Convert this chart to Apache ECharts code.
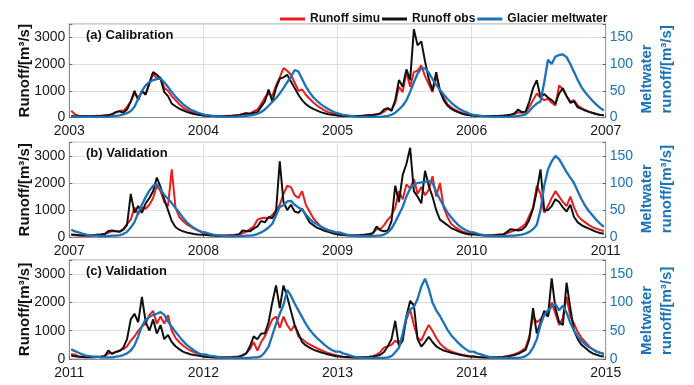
<!DOCTYPE html>
<html><head><meta charset="utf-8">
<script src="https://cdn.jsdelivr.net/npm/echarts@6/dist/echarts.min.js"></script>
<style>html,body{margin:0;padding:0;background:#fff}#c{width:694px;height:385px}</style>
</head><body><div id="c"></div>
<script>
// ---- data (≈10-day samples, 36 per year) ----
const startYears = [2003, 2007, 2011];
const samplesPerYear = 36;
const panelLabels = ['(a) Calibration', '(b) Validation', '(c) Validation'];
const seriesNames = ['Runoff simu', 'Runoff obs', 'Glacier meltwater'];
const runoffTicks = [0, 1000, 2000, 3000];
const meltTicks = [0, 50, 100, 150];

// Panel (a) 2003-2006
const simA = [
 250,120,70,60,60,60,60,70,70,80, 90,130,200,250,250,400,600,900,750,950, 900,1250,1650,1450,1500,1100,1000,800,650,500, 380,290,220,170,130,110,
 80,70,60,60,60,60,70,70,80,90, 130,170,150,230,300,500,750,900,800,1200, 1500,1850,1750,1600,1300,1000,1050,850,700,560, 450,350,270,200,160,130,
 80,70,60,60,60,60,70,80,90,100, 120,150,220,330,280,550,1150,950,1700,1150, 1700,1750,1950,1550,1250,950,1550,1000,750,500, 380,290,220,170,130,100,
 80,70,60,60,60,60,60,70,70,80, 100,130,200,180,200,400,650,900,750,650, 700,550,450,1200,1050,800,600,650,450,350, 280,220,170,130,100,80
];
const obsA = [
 60,50,50,50,50,50,50,60,60,70, 80,120,200,230,180,300,600,1000,650,1000, 850,1300,1700,1600,1450,950,800,520,420,330, 270,210,170,130,100,80,
 70,60,55,50,50,50,60,60,70,80, 120,150,130,180,200,400,600,1050,600,1100, 1450,1500,1600,1350,1100,850,650,500,400,320, 260,200,160,120,100,80,
 70,60,55,55,55,60,60,70,80,90, 110,150,300,350,250,650,1400,1150,1800,1400, 3300,2700,2850,2100,1450,1000,1700,1000,650,450, 330,250,190,140,100,80,
 70,60,55,55,55,55,60,60,70,80, 100,150,300,200,220,600,1100,1400,750,880, 750,650,520,900,1100,800,550,600,380,320, 260,210,170,130,90,80
];
const meltA = [
 1,1,1,1,1,1,1,1,1,1, 1,2,3,4,6,8,12,20,35,50, 60,66,70,72,73,66,57,48,39,32, 25,20,15,12,9,7,
 5,4,3,2,2,1,1,1,1,2, 2,3,4,5,7,10,15,22,29,36, 45,55,66,76,89,86,72,58,47,38, 31,25,20,16,12,9,
 7,5,4,3,2,1,1,1,1,1, 1,1,2,3,5,9,15,22,32,48, 66,82,92,92,84,72,61,52,43,35, 28,22,17,13,10,7,
 5,4,3,2,2,1,1,1,1,1, 1,2,3,4,6,12,20,26,30,66, 108,100,114,117,118,113,100,85,70,57, 47,39,31,24,18,13
];

// Panel (b) 2007-2010
const simB = [
 90,80,70,70,70,70,80,90,100,120, 170,230,220,220,300,500,650,1100,850,1100, 1050,1200,1450,1900,1700,1300,1150,2500,1100,750, 600,480,400,320,260,200,
 100,90,80,70,70,70,70,80,90,100, 150,200,300,400,650,700,720,700,820,1000, 1200,1600,1900,1850,1550,1450,1700,1200,950,700, 550,400,330,270,230,180,
 100,90,80,80,80,80,90,100,120,150, 300,300,450,650,800,1100,1700,1400,1950,1800, 2150,1600,1850,1550,1750,2250,1500,2000,1100,750, 500,380,290,220,170,130,
 130,100,90,80,80,80,90,100,110,150, 200,250,300,380,500,800,1100,1900,1600,900, 1150,1450,1700,1500,1300,1150,1500,1100,800,650, 550,450,370,320,270,230
];
const obsB = [
 100,90,80,70,70,70,80,90,100,120, 230,250,220,200,280,450,1600,900,1150,900, 1250,1450,1700,2200,1850,1400,1000,600,380,280, 220,180,150,120,100,90,
 90,80,70,60,60,60,70,70,80,100, 250,230,220,320,400,600,550,750,700,950, 2800,1300,1000,1200,950,900,1050,800,550,450, 350,300,240,200,160,120,
 100,90,80,70,70,70,80,90,110,150, 400,260,220,250,600,1900,1300,2300,2700,3300, 1700,1500,1250,2450,1900,1500,1000,650,550,450, 340,280,220,170,130,100,
 110,90,80,70,70,70,80,90,100,200, 300,280,250,280,400,650,1050,1700,2500,1000, 1000,1150,1400,1300,1100,950,1200,750,550,450, 380,320,260,200,160,130
];
const meltB = [
 14,11,9,7,5,4,3,3,2,2, 2,3,3,4,6,10,18,28,45,60, 74,86,95,98,88,78,71,63,54,46, 36,28,22,17,13,10,
 9,7,5,4,3,2,2,2,2,2, 2,3,3,4,6,9,13,18,25,40, 56,59,66,67,60,55,51,42,34,28, 24,20,16,13,11,9,
 9,7,5,4,3,2,2,2,2,2, 3,3,5,9,16,28,42,56,75,90, 97,100,101,102,104,100,84,70,58,46, 37,29,22,17,13,10,
 9,7,5,4,3,2,2,2,2,2, 3,3,4,5,7,10,15,23,50,95, 125,140,150,144,132,120,110,100,85,70, 58,48,40,32,25,19
];

// Panel (c) 2011-2014
const simC = [
 180,150,100,80,70,70,70,80,90,110, 200,200,250,300,350,450,650,800,1000,1150, 1250,1550,1700,1250,1500,1250,1550,1000,750,600, 480,380,300,240,190,160,
 80,70,60,60,60,60,60,70,80,90, 130,200,350,600,300,600,800,1100,1400,1500, 1100,1500,1200,1000,1200,800,700,600,520,450, 380,320,260,210,170,140,
 90,70,60,60,60,60,60,70,80,100, 150,250,400,450,500,650,550,800,1400,1750, 1200,750,650,950,1200,1000,750,550,420,330, 270,220,180,150,120,100,
 90,70,60,60,60,60,60,70,80,100, 130,170,220,300,400,800,1500,1300,1400,1600, 1500,2000,1600,1200,1450,2200,1500,1250,950,750, 600,450,350,280,220,180
];
const obsC = [
 120,100,80,70,60,60,60,70,80,100, 300,180,250,280,400,700,1400,1600,1300,2200, 1300,1000,1400,900,1200,700,850,600,450,350, 260,210,170,140,120,100,
 80,70,60,55,50,50,55,60,70,80, 130,200,450,800,700,900,900,1300,2000,2600, 1800,2600,2200,1700,1200,900,600,480,400,330, 280,240,200,160,130,100,
 100,80,70,60,55,55,55,60,70,90, 110,150,250,450,700,1350,450,650,1500,2050, 1900,700,440,600,780,600,450,370,300,260, 220,190,160,130,110,90,
 90,70,60,55,50,50,55,60,70,90, 110,140,180,250,320,700,1800,900,1300,1700, 1500,2850,1800,1300,1200,2700,1800,1000,700,500, 400,280,200,150,110,90
];
const meltC = [
 17,14,11,8,6,5,4,4,3,3, 3,3,4,5,7,10,15,24,40,58, 70,74,78,80,83,78,66,57,48,40, 32,25,20,15,11,8,
 8,6,5,4,3,2,2,2,2,2, 2,2,2,3,3,5,12,22,42,62, 80,96,122,112,98,86,74,62,52,44, 37,31,25,20,16,13,
 13,10,8,6,4,3,2,2,2,2, 2,2,2,3,5,12,20,45,75,88, 92,106,128,142,124,100,86,76,64,52, 42,35,28,22,17,13,
 13,10,8,6,4,3,2,2,2,2, 2,2,2,3,5,10,20,35,60,78, 86,92,97,86,94,82,64,50,40,32, 26,21,17,13,11,9
];

const panels = [
  { sim: simA, obs: obsA, melt: meltA },
  { sim: simB, obs: obsB, melt: meltB },
  { sim: simC, obs: obsC, melt: meltC }
];

// ---- styles / layout ----
const RED = '#ec1c1c', BLACK = '#111111', BLUE = '#1a72b8';
const FONT = 'Liberation Sans, Arial, sans-serif';
const gridTops = [24, 142.3, 260];
const gridHeights = [93.5, 95, 99];
const gridLeft = 69.3, gridRight = 88.3;

function toPairs(arr, y0) {
  return arr.map((v, k) => [y0 + (k + 0.5) / samplesPerYear, v]);
}

const grids = [], xAxes = [], yAxes = [], series = [], graphics = [];
panels.forEach((p, i) => {
  const y0 = startYears[i];
  grids.push({ left: gridLeft, right: gridRight, top: gridTops[i], height: gridHeights[i],
    show: true, borderColor: '#9a9a9a', borderWidth: 1, containLabel: false });
  xAxes.push({ type: 'value', gridIndex: i, min: y0, max: y0 + 4, interval: 1,
    axisLine: { show: true, lineStyle: { color: '#8c8c8c' } },
    axisTick: { show: true, inside: true, length: 3, lineStyle: { color: '#666' } },
    axisLabel: { formatter: v => String(v), margin: 7, fontSize: 14, color: '#1a1a1a', fontFamily: FONT },
    splitLine: { show: true, lineStyle: { color: '#dedede', width: 1 } } });
  yAxes.push({ type: 'value', gridIndex: i, position: 'left', min: 0, max: 3500, interval: 1000,
    name: 'Runoff/[m³/s]', nameLocation: 'middle', nameGap: 37, nameRotate: 90, nameMoveOverlap: false,
    nameTextStyle: { fontSize: 15, fontWeight: 'bold', color: '#111', fontFamily: FONT },
    axisLine: { show: true, lineStyle: { color: '#8c8c8c' } },
    axisTick: { show: true, inside: true, length: 3, lineStyle: { color: '#666' } },
    axisLabel: { formatter: v => runoffTicks.includes(v) ? String(v) : '', margin: 4, fontSize: 14, color: '#1a1a1a', fontFamily: FONT },
    splitLine: { show: true, lineStyle: { color: '#dedede', width: 1 } } });
  yAxes.push({ type: 'value', gridIndex: i, position: 'right', min: 0, max: 175, interval: 50,
    axisLine: { show: true, lineStyle: { color: '#8fa8bd' } },
    axisTick: { show: true, inside: true, length: 3, lineStyle: { color: BLUE } },
    axisLabel: { formatter: v => meltTicks.includes(v) ? String(v) : '', margin: 4, fontSize: 14, color: BLUE, fontFamily: FONT },
    splitLine: { show: false } });
  const common = { type: 'line', xAxisIndex: i, showSymbol: false, symbol: 'none', animation: false };
  series.push(Object.assign({}, common, { name: seriesNames[0], yAxisIndex: 2 * i, data: toPairs(p.sim, y0),
    lineStyle: { color: RED, width: 2 }, itemStyle: { color: RED }, z: 2 }));
  series.push(Object.assign({}, common, { name: seriesNames[1], yAxisIndex: 2 * i, data: toPairs(p.obs, y0),
    lineStyle: { color: BLACK, width: 2 }, itemStyle: { color: BLACK }, z: 3 }));
  series.push(Object.assign({}, common, { name: seriesNames[2], yAxisIndex: 2 * i + 1, data: toPairs(p.melt, y0),
    lineStyle: { color: BLUE, width: 2.3 }, itemStyle: { color: BLUE }, z: 4 }));

  graphics.push({ type: 'text', x: 86, y: gridTops[i] + 11, z: 10,
    style: { text: panelLabels[i], fill: '#111', font: 'bold 13px ' + FONT,
      textAlign: 'left', textVerticalAlign: 'middle', align: 'left', verticalAlign: 'middle' } });
  graphics.push({ type: 'text', x: 637, y: gridTops[i] + gridHeights[i] - 4, rotation: Math.PI / 2, z: 10,
    style: { text: 'Meltwater\nrunoff/[m³/s]', fill: BLUE, font: 'bold 15px ' + FONT, lineHeight: 20,
      textAlign: 'left', textVerticalAlign: 'top', align: 'left', verticalAlign: 'top' } });
});

const chart = echarts.init(document.getElementById('c'), null, { renderer: 'canvas' });
chart.setOption({
  animation: false,
  backgroundColor: '#ffffff',
  textStyle: { fontFamily: FONT },
  legend: { data: seriesNames, left: 275, top: 8, icon: 'rect', itemWidth: 25, itemHeight: 3, itemGap: 2,
    textStyle: { fontSize: 12, fontWeight: 'bold', color: '#111', fontFamily: FONT } },
  grid: grids, xAxis: xAxes, yAxis: yAxes, series: series, graphic: graphics
});
</script></body></html>
